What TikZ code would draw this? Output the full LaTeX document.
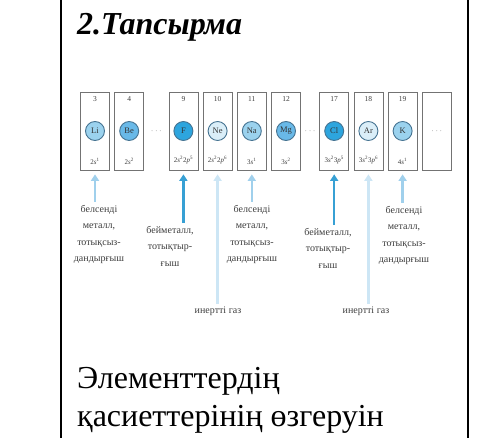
\documentclass[tikz,border=0pt]{standalone}
\usepackage{fontspec}
\setmainfont{Liberation Serif}
\usepackage{tikz}
\usetikzlibrary{arrows.meta, positioning, calc}

\definecolor{atomPale}{RGB}{218,238,248}
\definecolor{atomLight}{RGB}{155,210,238}
\definecolor{atomMid}{RGB}{105,185,232}
\definecolor{atomDeep}{RGB}{45,165,222}
\definecolor{atomRim}{RGB}{70,115,145}
\definecolor{arrPale}{RGB}{205,230,245}
\definecolor{arrLight}{RGB}{160,208,236}
\definecolor{arrDeep}{RGB}{55,160,212}
\definecolor{inkGray}{RGB}{60,60,60}

\begin{document}
\begin{tikzpicture}[
  x=1pt, y=-1pt,
  cell/.style={rectangle, draw=black!55, line width=0.7pt, minimum width=29pt, minimum height=78pt, inner sep=0pt},
  num/.style={font=\fontsize{7.5}{8}\selectfont, text=inkGray, inner sep=1pt},
  atom/.style={circle, draw=atomRim, line width=0.9pt, minimum size=19pt, inner sep=0pt, font=\fontsize{8.5}{9}\selectfont, text=black!80},
  cfg/.style={font=\fontsize{7}{8}\selectfont, text=inkGray, inner sep=1pt},
  gap/.style={font=\small, text=black!50},
  lbl/.style={anchor=north, align=center, inner sep=0pt, font=\fontsize{10}{16.5}\selectfont, text=inkGray},
  up/.style={-{Triangle[width=8pt, length=6.5pt]}, line width=2.5pt, shorten >=4pt, shorten <=3pt}
]
\useasboundingbox (0,0) rectangle (481,438);
\draw[line width=1.4pt] (61,0) -- (61,438);
\draw[line width=1.4pt] (468,0) -- (468,438);

\node[anchor=base west, inner sep=0pt, font=\fontsize{32}{36}\selectfont\bfseries\itshape] (title) at (77,35) {2.Тапсырма};

% element cells
\node[cell] (cLi) at (95,131) {};
\node[cell, right=4.5pt of cLi] (cBe) {};
\node[cell, right=24.5pt of cBe] (cF) {};
\node[cell, right=4.5pt of cF] (cNe) {};
\node[cell, right=4.5pt of cNe] (cNa) {};
\node[cell, right=4.5pt of cNa] (cMg) {};
\node[cell, right=18.5pt of cMg] (cCl) {};
\node[cell, right=4.5pt of cCl] (cAr) {};
\node[cell, right=4.5pt of cAr] (cK) {};
\node[cell, right=4.5pt of cK] (cNext) {};

\node[num, below=4pt of cLi.north] (nLi) {3};
\node[num, below=4pt of cBe.north] (nBe) {4};
\node[num, below=4pt of cF.north] (nF) {9};
\node[num, below=4pt of cNe.north] (nNe) {10};
\node[num, below=4pt of cNa.north] (nNa) {11};
\node[num, below=4pt of cMg.north] (nMg) {12};
\node[num, below=4pt of cCl.north] (nCl) {17};
\node[num, below=4pt of cAr.north] (nAr) {18};
\node[num, below=4pt of cK.north] (nK) {19};

\node[atom, fill=atomLight] (aLi) at (cLi) {Li};
\node[atom, fill=atomMid] (aBe) at (cBe) {Be};
\node[atom, fill=atomDeep] (aF) at (cF) {F};
\node[atom, fill=atomPale] (aNe) at (cNe) {Ne};
\node[atom, fill=atomLight] (aNa) at (cNa) {Na};
\node[atom, fill=atomMid] (aMg) at (cMg) {Mg};
\node[atom, fill=atomDeep] (aCl) at (cCl) {Cl};
\node[atom, fill=atomPale] (aAr) at (cAr) {Ar};
\node[atom, fill=atomLight] (aK) at (cK) {K};

\node[cfg, above=5pt of cLi.south] (gLi) {2\textit{s}\textsuperscript{1}};
\node[cfg, above=5pt of cBe.south] (gBe) {2\textit{s}\textsuperscript{2}};
\node[cfg, above=5pt of cF.south] (gF) {2\textit{s}\textsuperscript{2}2\textit{p}\textsuperscript{5}};
\node[cfg, above=5pt of cNe.south] (gNe) {2\textit{s}\textsuperscript{2}2\textit{p}\textsuperscript{6}};
\node[cfg, above=5pt of cNa.south] (gNa) {3\textit{s}\textsuperscript{1}};
\node[cfg, above=5pt of cMg.south] (gMg) {3\textit{s}\textsuperscript{2}};
\node[cfg, above=5pt of cCl.south] (gCl) {3\textit{s}\textsuperscript{2}3\textit{p}\textsuperscript{5}};
\node[cfg, above=5pt of cAr.south] (gAr) {3\textit{s}\textsuperscript{2}3\textit{p}\textsuperscript{6}};
\node[cfg, above=5pt of cK.south] (gK) {4\textit{s}\textsuperscript{1}};

\node[gap] (dotsA) at ($(cBe)!0.5!(cF)$) {$\cdots$};
\node[gap] (dotsB) at ($(cMg)!0.5!(cCl)$) {$\cdots$};
\node[gap] (dotsC) at (cNext) {$\cdots$};

% property labels
\node[lbl] (lLi) at (99,205) {белсенді\\металл,\\тотықсыз-\\дандырғыш};
\node[lbl] (lF) at (170,226) {бейметалл,\\тотықтыр-\\ғыш};
\node[lbl] (lNe) at (218,307) {инертті газ};
\node[lbl] (lNa) at (252,205) {белсенді\\металл,\\тотықсыз-\\дандырғыш};
\node[lbl] (lCl) at (328,228) {бейметалл,\\тотықтыр-\\ғыш};
\node[lbl] (lAr) at (366,307) {инертті газ};
\node[lbl] (lK) at (404,206) {белсенді\\металл,\\тотықсыз-\\дандырғыш};

\draw[up, draw=arrLight] (lLi.north -| cLi) -- (cLi.south);
\draw[up, draw=arrDeep] (lF.north -| cF) -- (cF.south);
\draw[up, draw=arrPale] (lNe.north -| cNe) -- (cNe.south);
\draw[up, draw=arrLight] (lNa.north -| cNa) -- (cNa.south);
\draw[up, draw=arrDeep] (lCl.north -| cCl) -- (cCl.south);
\draw[up, draw=arrPale] (lAr.north -| cAr) -- (cAr.south);
\draw[up, draw=arrLight] (lK.north -| cK) -- (cK.south);

\node[anchor=base west, align=left, inner sep=0pt, font=\fontsize{32}{38}\selectfont] (caption) at (77,426) {Элементтердің\\қасиеттерінің өзгеруін};
\end{tikzpicture}
\end{document}
